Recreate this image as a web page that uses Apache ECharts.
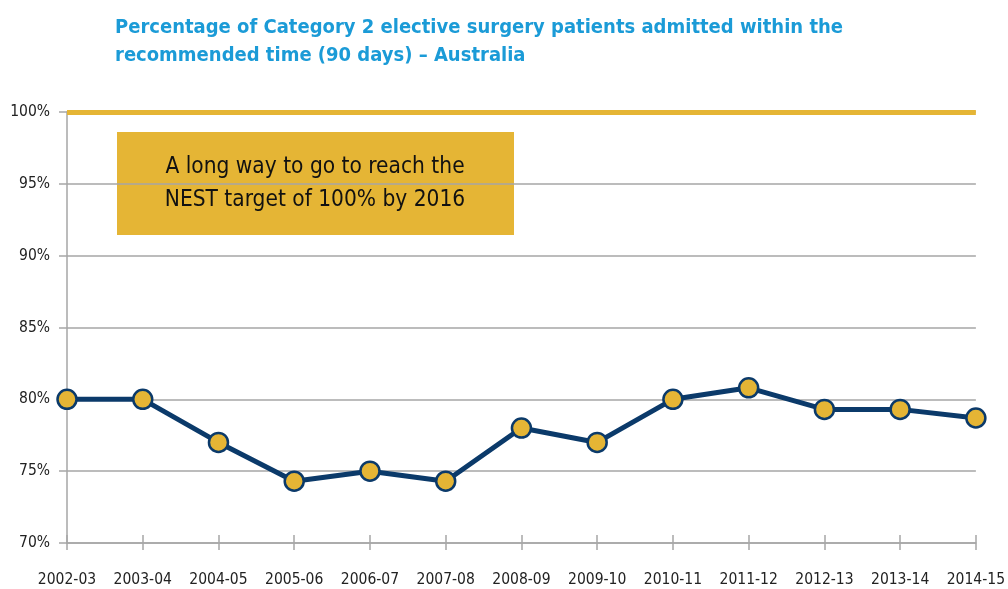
<!DOCTYPE html>
<html>
<head>
<meta charset="utf-8">
<script src="https://cdn.jsdelivr.net/npm/echarts@6/dist/echarts.min.js"></script>
<style>
  html, body { margin: 0; padding: 0; background: #fff; overflow: hidden; }
  #chart { width: 1008px; height: 589px; }
</style>
</head>
<body>
<div id="chart"></div>
<script>
  // data
  let years = ['2002-03', '2003-04', '2004-05', '2005-06', '2006-07', '2007-08', '2008-09',
    '2009-10', '2010-11', '2011-12', '2012-13', '2013-14', '2014-15']
  let admittedPct = [80.0, 80.0, 77.0, 74.3, 75.0, 74.3, 78.0, 77.0, 80.0, 80.8, 79.3, 79.3, 78.7]
  let target = 100
  let yMin = 70
  let yMax = 100
  let yStep = 5

  let font = '"Liberation Sans Narrow", "DejaVu Sans Condensed", "Roboto Condensed", sans-serif'
  let gold = '#e5b535'
  let navy = '#0b3a6a'
  let grey = '#a6a6a6'

  let chart = echarts.init(document.getElementById('chart'))
  let option = {
    animation: false,
    title: {
      text: 'Percentage of Category 2 elective surgery patients admitted within the\nrecommended time (90 days) – Australia',
      left: 110,
      top: 9,
      textStyle: {
        fontFamily: font,
        fontSize: 20,
        fontWeight: 'bold',
        color: '#1b9bd7',
        lineHeight: 28
      }
    },
    grid: {
      left: 67,
      right: 25,
      top: 112,
      bottom: 46,
      containLabel: false
    },
    xAxis: [{
      type: 'category',
      data: years,
      boundaryGap: false,
      axisLine: { lineStyle: { color: grey, width: 1.5 } },
      axisTick: { show: true, length: 7, alignWithLabel: true, lineStyle: { color: grey, width: 1.5 } },
      axisLabel: { color: '#222', fontFamily: font, fontSize: 15.5, margin: 29, interval: 0 },
      splitLine: { show: false }
    }, {
      // second copy only for the tick part above the axis
      type: 'category',
      data: years,
      boundaryGap: false,
      position: 'bottom',
      axisLine: { show: false },
      axisTick: { show: true, inside: true, length: 8, lineStyle: { color: grey, width: 1.5 } },
      axisLabel: { show: false },
      splitLine: { show: false }
    }],
    yAxis: {
      type: 'value',
      min: yMin,
      max: yMax,
      interval: yStep,
      axisLine: { show: true, lineStyle: { color: grey, width: 1.5 } },
      axisTick: { show: true, length: 8, lineStyle: { color: grey, width: 1.5 } },
      axisLabel: {
        color: '#222',
        fontFamily: font,
        fontSize: 15.5,
        margin: 17,
        formatter: '{value}%'
      },
      splitLine: { show: true, lineStyle: { color: grey, width: 1.5 } }
    },
    graphic: [{
      type: 'group',
      left: 117,
      top: 132,
      children: [{
        type: 'rect',
        shape: { x: 0, y: 0, width: 397, height: 103 },
        style: { fill: gold }
      }, {
        type: 'text',
        x: 198,
        y: 52,
        style: {
          text: 'A long way to go to reach the\nNEST target of 100% by 2016',
          fontFamily: font,
          fontSize: 22.5,
          lineHeight: 33,
          fill: '#111',
          align: 'center',
          verticalAlign: 'middle'
        }
      }]
    }],
    series: [{
      name: 'Admitted within time',
      type: 'line',
      data: admittedPct,
      symbol: 'circle',
      symbolSize: 19,
      lineStyle: { color: navy, width: 5 },
      itemStyle: { color: gold, borderColor: navy, borderWidth: 2.5 },
      z: 5,
      markLine: {
        silent: true,
        symbol: 'none',
        label: { show: false },
        lineStyle: { color: gold, width: 5, type: 'solid' },
        data: [{ yAxis: target }],
        z: 3
      }
    }]
  }
  chart.setOption(option)
  window.addEventListener('resize', () => chart.resize())
</script>
</body>
</html>
